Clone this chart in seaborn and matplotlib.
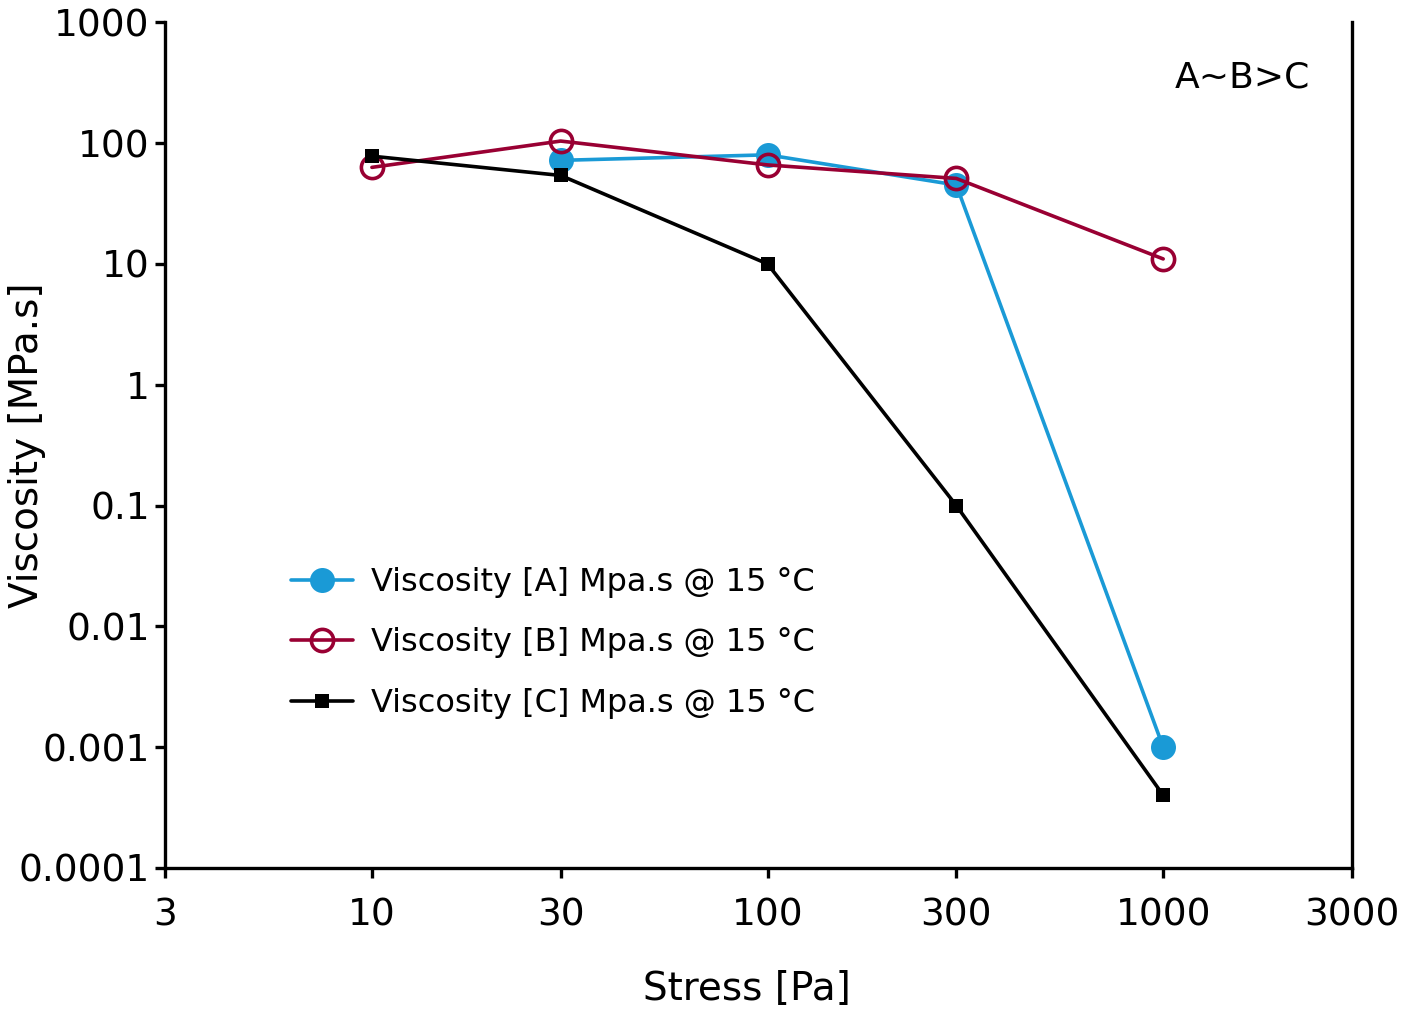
import pandas as pd
import matplotlib.pyplot as plt
import seaborn as sns

sns.set_style("white")
plt.rcParams['font.family'] = ['DejaVu Sans']
plt.rcParams['text.color'] = 'black'
plt.rcParams['axes.labelcolor'] = 'black'

# data
stress_a = [30, 100, 300, 1000]
visc_a = [72, 80, 45, 0.001]
stress_b = [10, 30, 100, 300, 1000]
visc_b = [63, 104, 66, 51, 11]
stress_c = [10, 30, 100, 300, 1000]
visc_c = [78, 54, 10, 0.1, 0.0004]

x_ticks = [3, 10, 30, 100, 300, 1000, 3000]
y_ticks = [0.0001, 0.001, 0.01, 0.1, 1, 10, 100, 1000]
y_labels = ['0.0001', '0.001', '0.01', '0.1', '1', '10', '100', '1000']

label_a = 'Viscosity [A] Mpa.s @ 15 °C'
label_b = 'Viscosity [B] Mpa.s @ 15 °C'
label_c = 'Viscosity [C] Mpa.s @ 15 °C'


def main():
	df_a = pd.DataFrame({'Stress': stress_a, 'Viscosity': visc_a})
	df_b = pd.DataFrame({'Stress': stress_b, 'Viscosity': visc_b})
	df_c = pd.DataFrame({'Stress': stress_c, 'Viscosity': visc_c})

	fig = plt.figure(figsize=(14.01, 10.14), dpi=100)
	ax = fig.add_axes([0.1178, 0.144, 0.8472, 0.834])

	sns.lineplot(data=df_a, x='Stress', y='Viscosity', ax=ax, color='#1a9ad6',
		linewidth=2.6, marker='o', markersize=18, markeredgewidth=0, label=label_a)
	sns.lineplot(data=df_b, x='Stress', y='Viscosity', ax=ax, color='#990033',
		linewidth=2.6, marker='o', markersize=16, markerfacecolor='none',
		markeredgecolor='#990033', markeredgewidth=2.6, label=label_b)
	sns.lineplot(data=df_c, x='Stress', y='Viscosity', ax=ax, color='black',
		linewidth=2.6, marker='s', markersize=10, markeredgewidth=0, label=label_c)

	ax.set_xscale('log')
	ax.set_yscale('log')
	ax.set_xlim(3, 3000)
	ax.set_ylim(0.0001, 1000)
	ax.set_xticks(x_ticks)
	ax.set_xticklabels([str(t) for t in x_ticks])
	ax.set_yticks(y_ticks)
	ax.set_yticklabels(y_labels)
	ax.minorticks_off()
	ax.tick_params(axis='both', labelsize=27, width=2.4, length=7, direction='out',
		left=True, bottom=True, colors='black')
	ax.tick_params(axis='x', pad=14)
	ax.tick_params(axis='y', pad=4)

	ax.spines['top'].set_visible(False)
	for side in ['left', 'bottom', 'right']:
		ax.spines[side].set_linewidth(2.4)
		ax.spines[side].set_color('black')

	ax.set_xlabel('Stress [Pa]', fontsize=28)
	ax.xaxis.set_label_coords(0.49, -0.121)
	ax.set_ylabel('Viscosity [MPa.s]', fontsize=28)
	ax.yaxis.set_label_coords(-0.1, 0.5)

	ax.text(0.965, 0.935, 'A~B>C', transform=ax.transAxes, fontsize=26,
		ha='right', va='center')

	ax.legend(loc='upper left', bbox_to_anchor=(0.082, 0.39), frameon=False,
		fontsize=23, handlelength=1.95, handletextpad=0.55, labelspacing=0.92)

	fig.savefig('out.png', dpi=100)


if __name__ == "__main__":
	main()
